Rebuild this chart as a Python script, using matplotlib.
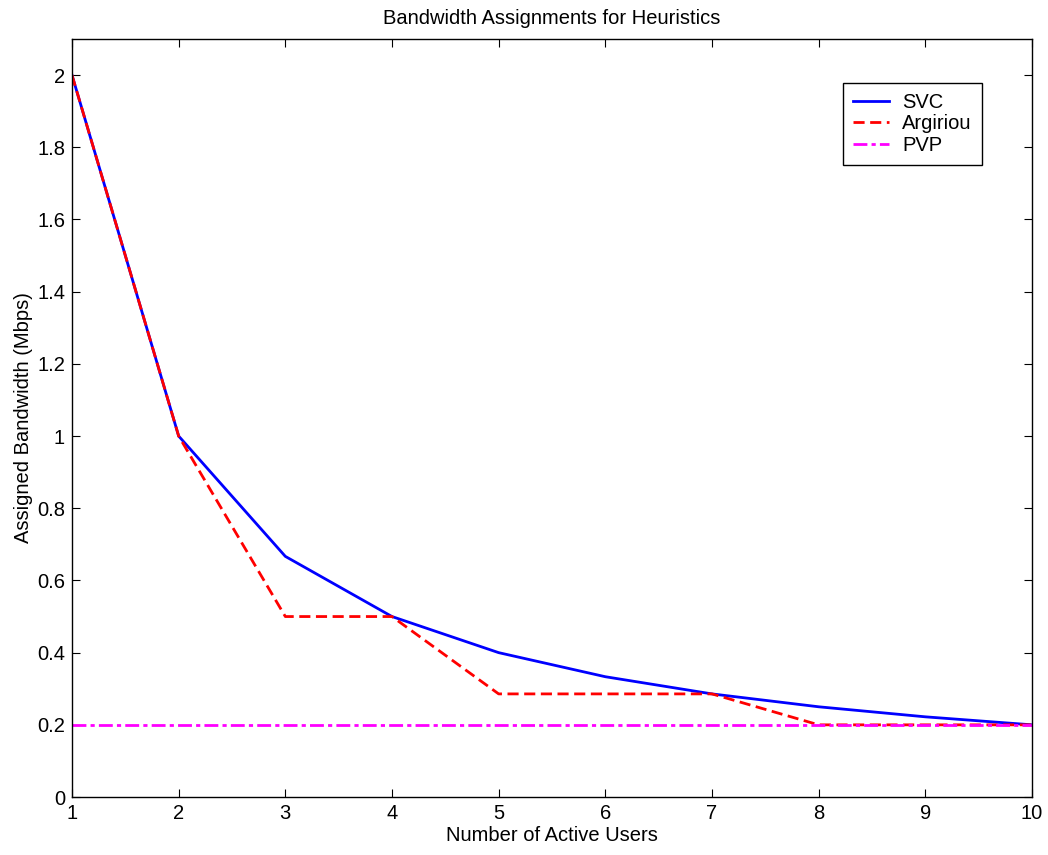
import matplotlib
matplotlib.use("Agg")
import matplotlib.pyplot as plt

plt.rcParams["font.family"] = ["Liberation Sans", "DejaVu Sans"]

users = [1, 2, 3, 4, 5, 6, 7, 8, 9, 10]
svc = [2.0, 1.0, 0.6667, 0.5, 0.4, 0.3333, 0.2857, 0.25, 0.2222, 0.2]
argiriou = [2.0, 1.0, 0.5, 0.5, 0.2857, 0.2857, 0.2857, 0.2, 0.2, 0.2]
pvp = [0.2, 0.2, 0.2, 0.2, 0.2, 0.2, 0.2, 0.2, 0.2, 0.2]

FS = 14.5

fig = plt.figure(figsize=(10.48, 8.55), dpi=100)
ax = fig.add_axes([0.0687, 0.0678, 0.916, 0.8866])

ax.plot(users, svc, color="#0000ff", linewidth=2, label="SVC")
ax.plot(users, argiriou, color="#ff0000", linewidth=2, linestyle=(0, (4, 2)), label="Argiriou")
ax.plot(users, pvp, color="#ff00ff", linewidth=2, linestyle=(0, (5, 1.5, 1.5, 1.5)), label="PVP")

ax.set_xlim(1, 10)
ax.set_ylim(0, 2.1)
ax.set_xticks(users)
ax.set_yticks([0, 0.2, 0.4, 0.6, 0.8, 1, 1.2, 1.4, 1.6, 1.8, 2])
ax.set_yticklabels(["0", "0.2", "0.4", "0.6", "0.8", "1", "1.2", "1.4", "1.6", "1.8", "2"])
ax.tick_params(direction="in", top=True, right=True, length=6, labelsize=FS, pad=5)
for s in ax.spines.values():
    s.set_linewidth(1)

ax.set_xlabel("Number of Active Users", fontsize=FS, labelpad=2)
ax.set_ylabel("Assigned Bandwidth (Mbps)", fontsize=FS, labelpad=3)
ax.set_title("Bandwidth Assignments for Heuristics", fontsize=FS, pad=11)

leg = ax.legend(loc="upper left", bbox_to_anchor=(0.803, 0.942), fontsize=FS,
                frameon=True, fancybox=False, edgecolor="black", framealpha=1,
                handlelength=1.8, handletextpad=0.65, borderpad=0.5,
                labelspacing=0.12, borderaxespad=0)
leg.get_frame().set_linewidth(1)

fig.savefig("out.png", dpi=100, facecolor="white")
